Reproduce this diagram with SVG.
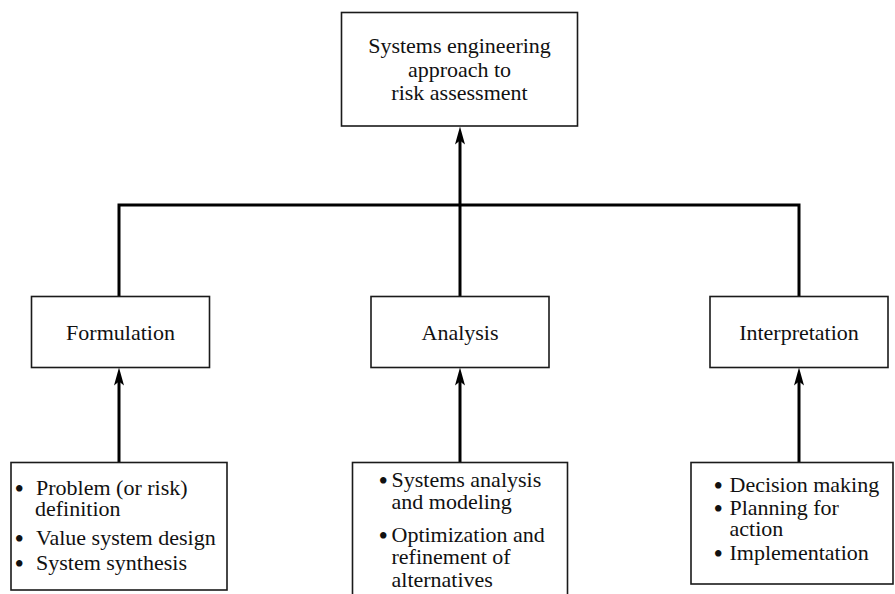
<svg xmlns="http://www.w3.org/2000/svg" width="895" height="594" viewBox="0 0 895 594">
  <style>
    .box { fill: #ffffff; stroke: #1a1a1a; stroke-width: 1.6; }
    .wire { fill: none; stroke: #000000; stroke-width: 3; stroke-linecap: butt; stroke-linejoin: miter; }
    .lbl { font-family: "Liberation Serif", "Times New Roman", serif; font-size: 22px; fill: #111111; }
    .dot { font-size: 27px; }
    .mid { text-anchor: middle; }
  </style>
  <defs>
    <marker id="head" viewBox="-8 -6 20 12" refX="0" refY="0" markerWidth="20" markerHeight="12" markerUnits="userSpaceOnUse" orient="auto">
      <path d="M11,0 L-7,-5 L-3,0 L-7,5 Z" fill="#000000"/>
    </marker>
  </defs>

  <!-- connectors -->
  <g id="connectors">
    <polyline class="wire" points="119,297 119,205 799,205 799,297"/>
    <line class="wire" x1="460" y1="205" x2="460" y2="297"/>
    <line class="wire" x1="460" y1="205" x2="460" y2="137.5" marker-end="url(#head)"/>
    <line class="wire" x1="119" y1="462" x2="119" y2="378.5" marker-end="url(#head)"/>
    <line class="wire" x1="460" y1="462" x2="460" y2="378.5" marker-end="url(#head)"/>
    <line class="wire" x1="799" y1="462" x2="799" y2="378.5" marker-end="url(#head)"/>
  </g>

  <!-- root -->
  <g id="root">
    <rect class="box" x="341.5" y="12.5" width="236" height="113.5"/>
    <text class="lbl mid" x="459.5" y="53">Systems engineering</text>
    <text class="lbl mid" x="459.5" y="76.5">approach to</text>
    <text class="lbl mid" x="459.5" y="100">risk assessment</text>
  </g>

  <!-- phases -->
  <g id="formulation">
    <rect class="box" x="31.5" y="296.5" width="178" height="71"/>
    <text class="lbl mid" x="120.5" y="340">Formulation</text>
  </g>
  <g id="analysis">
    <rect class="box" x="371" y="296.5" width="178" height="71"/>
    <text class="lbl mid" x="460" y="340">Analysis</text>
  </g>
  <g id="interpretation">
    <rect class="box" x="710" y="296.5" width="178" height="71"/>
    <text class="lbl mid" x="799" y="340">Interpretation</text>
  </g>

  <!-- activity lists: bullet glyph enlarged and dropped to sit at x-height -->
  <g id="formulation-tasks">
    <rect class="box" x="11" y="462.5" width="216" height="127.5"/>
    <text class="lbl"><tspan class="dot" x="14.5" y="497.5">•</tspan><tspan x="36" y="495">Problem (or risk)</tspan></text>
    <text class="lbl" x="35" y="516">definition</text>
    <text class="lbl"><tspan class="dot" x="14.5" y="547.5">•</tspan><tspan x="36" y="545">Value system design</tspan></text>
    <text class="lbl"><tspan class="dot" x="14.5" y="572.5">•</tspan><tspan x="36" y="570">System synthesis</tspan></text>
  </g>
  <g id="analysis-tasks">
    <rect class="box" x="352.5" y="462.5" width="215" height="140"/>
    <text class="lbl"><tspan class="dot" x="378.5" y="489.5">•</tspan><tspan x="391.5" y="487">Systems analysis</tspan></text>
    <text class="lbl" x="391.5" y="509">and modeling</text>
    <text class="lbl"><tspan class="dot" x="378.5" y="544.5">•</tspan><tspan x="391.5" y="542">Optimization and</tspan></text>
    <text class="lbl" x="391.5" y="564">refinement of</text>
    <text class="lbl" x="391.5" y="587">alternatives</text>
  </g>
  <g id="interpretation-tasks">
    <rect class="box" x="691" y="462.5" width="202" height="121.5"/>
    <text class="lbl"><tspan class="dot" x="713.5" y="494.5">•</tspan><tspan x="729.5" y="492">Decision making</tspan></text>
    <text class="lbl"><tspan class="dot" x="713.5" y="517.5">•</tspan><tspan x="729.5" y="515">Planning for</tspan></text>
    <text class="lbl" x="729.5" y="536">action</text>
    <text class="lbl"><tspan class="dot" x="713.5" y="562.5">•</tspan><tspan x="729.5" y="560">Implementation</tspan></text>
  </g>
</svg>
